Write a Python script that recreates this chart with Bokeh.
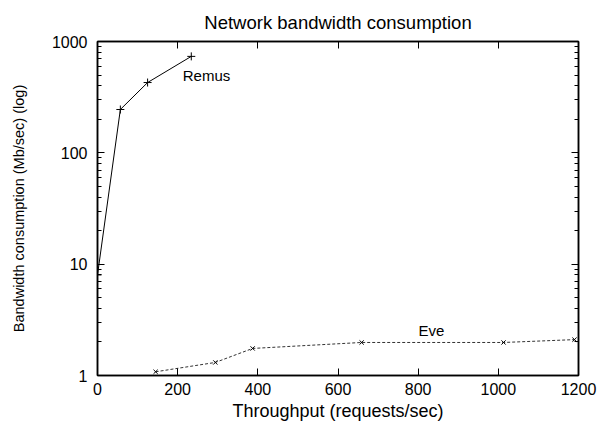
from bokeh.plotting import figure
from bokeh.models import (Range1d, LinearAxis, LogAxis, FixedTicker, LogTicker,
                          PrintfTickFormatter, CustomJSTickFormatter, Label)
from bokeh.embed import file_html
from bokeh.resources import INLINE

remus_x = [0, 57, 125, 234]
remus_y = [8, 245, 428, 735]
eve_x = [145, 294, 387, 659, 1013, 1190]
eve_y = [1.08, 1.31, 1.75, 1.98, 1.98, 2.1]
x_ticks = [0, 200, 400, 600, 800, 1000, 1200]

FONT = "Liberation Sans"

p = figure(width=605, height=425, output_backend="svg", toolbar_location=None,
           y_axis_type="log", x_range=Range1d(0, 1200), y_range=Range1d(1, 1000),
           title="Network bandwidth consumption",
           min_border_left=97, min_border_right=27, min_border_top=41, min_border_bottom=50)

p.title.align = "center"
p.title.text_font = FONT
p.title.text_font_size = "18.5px"
p.title.text_font_style = "normal"
p.title.text_color = "black"
p.title.standoff = 17

p.grid.visible = False
p.outline_line_color = "black"
p.outline_line_width = 1.5
p.background_fill_color = "white"
p.border_fill_color = "white"

def style_axis(ax):
    ax.axis_line_color = "black"
    ax.axis_line_width = 1.5
    ax.major_tick_in = 7
    ax.major_tick_out = 0
    ax.major_tick_line_color = "black"
    ax.minor_tick_in = 4
    ax.minor_tick_out = 0
    ax.minor_tick_line_color = "black"
    ax.major_label_text_font = FONT
    ax.major_label_text_font_size = "16px"
    ax.major_label_text_color = "black"
    ax.axis_label_text_font = FONT
    ax.axis_label_text_font_size = "18px"
    ax.axis_label_text_font_style = "normal"
    ax.axis_label_text_color = "black"

xa = p.xaxis[0]
style_axis(xa)
xa.ticker = FixedTicker(ticks=x_ticks)
xa.minor_tick_line_color = None
xa.axis_label = "Throughput (requests/sec)"
xa.major_label_standoff = 7
xa.axis_label_standoff = 3

ya = p.yaxis[0]
style_axis(ya)
ya.ticker = LogTicker(num_minor_ticks=10)
ya.formatter = PrintfTickFormatter(format="%d")
ya.axis_label = "Bandwidth consumption (Mb/sec) (log)"
ya.axis_label_text_font_size = "14.5px"
ya.major_label_standoff = 10
ya.axis_label_standoff = 22

blank = CustomJSTickFormatter(code="return '';")
top = LinearAxis(ticker=FixedTicker(ticks=x_ticks), formatter=blank)
style_axis(top)
top.minor_tick_line_color = None
top.major_label_standoff = 0
p.add_layout(top, "above")

right = LogAxis(ticker=LogTicker(num_minor_ticks=10), formatter=blank)
style_axis(right)
right.major_label_standoff = 0
p.add_layout(right, "right")

p.line(remus_x, remus_y, line_color="black", line_width=1)
p.scatter(remus_x, remus_y, marker="cross", size=8, line_color="black", line_width=1)
p.line(eve_x, eve_y, line_color="#333333", line_width=1, line_dash="3 2")
p.scatter(eve_x, eve_y, marker="x", size=6, line_color="black", line_width=1)

p.add_layout(Label(x=272, y=496, text="Remus", text_font=FONT, text_font_size="15px",
                   text_align="center", text_baseline="middle", text_color="black"))
p.add_layout(Label(x=833, y=2.54, text="Eve", text_font=FONT, text_font_size="15px",
                   text_align="center", text_baseline="middle", text_color="black"))

open("out.html", "w").write(file_html(p, INLINE))
